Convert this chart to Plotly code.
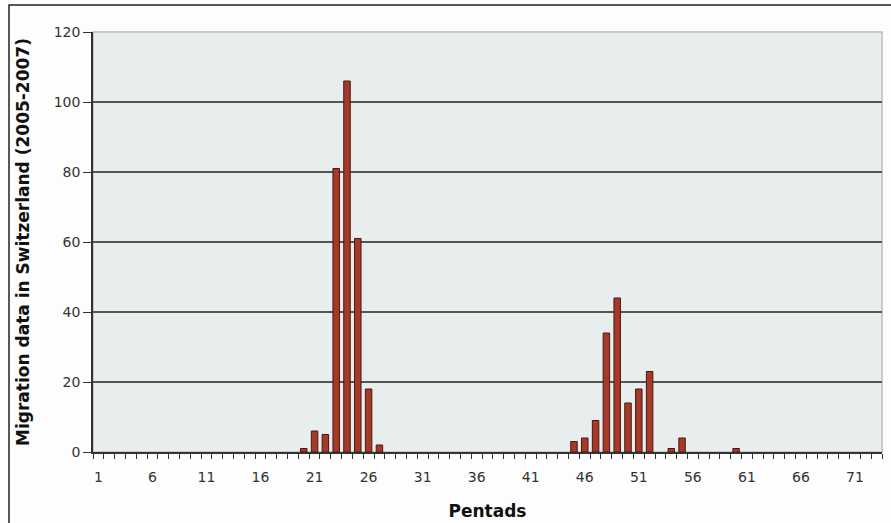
import plotly.graph_objects as go

pentads = list(range(1, 74))
counts_nonzero = {20: 1, 21: 6, 22: 5, 23: 81, 24: 106, 25: 61, 26: 18, 27: 2,
                  45: 3, 46: 4, 47: 9, 48: 34, 49: 44, 50: 14, 51: 18, 52: 23,
                  54: 1, 55: 4, 60: 1}
counts = [counts_nonzero.get(p, 0) for p in pentads]
x_labels = [str(p) for p in pentads]
tick_text = [str(p) if (p - 1) % 5 == 0 else "" for p in pentads]
y_ticks = [0, 20, 40, 60, 80, 100, 120]

W, H = 891, 523
L, R, T, B = 93, 9, 32, 71
pw, ph = W - L - R, H - T - B

def px2paper(x, y):
    return (x - L) / pw, (H - B - y) / ph

fig = go.Figure()
fig.add_trace(go.Bar(
    x=x_labels, y=counts,
    marker=dict(color="#a63a28",
                line=dict(color="#4a1610", width=[1 if v > 0 else 0 for v in counts])),
    width=0.6,
    hoverinfo="x+y",
))

x0, y0 = px2paper(9, 5)
x1, y1 = px2paper(897, 530)
fig.add_shape(type="rect", xref="paper", yref="paper", x0=x0, y0=y1, x1=x1, y1=y0,
              line=dict(color="#222", width=1.5), layer="above")
fig.add_shape(type="rect", xref="paper", yref="paper", x0=0, y0=0, x1=1, y1=1,
              line=dict(color="#b8bcbc", width=1.5), layer="below")

font_family = "DejaVu Sans, Verdana, sans-serif"
fig.update_layout(
    width=W, height=H,
    margin=dict(l=L, r=R, t=T, b=B, pad=0),
    paper_bgcolor="#fcfdfc",
    plot_bgcolor="#e8eeee",
    showlegend=False,
    font=dict(family=font_family, size=14, color="#333"),
    xaxis=dict(
        type="category",
        tickmode="array", tickvals=x_labels, ticktext=tick_text,
        tickson="boundaries", tickangle=0,
        ticks="outside", ticklen=5, tickwidth=1.2, tickcolor="#333",
        showline=True, linecolor="#333", linewidth=1.5,
        showgrid=False,
        ticklabelstandoff=11,
        tickfont=dict(size=14, color="#333"),
        title=dict(text="<b>Pentads</b>", font=dict(size=17, color="#111"), standoff=22),
        automargin=False,
        range=[-0.5, 72.5],
    ),
    yaxis=dict(
        range=[0, 120],
        tickvals=y_ticks,
        ticks="outside", ticklen=8, tickwidth=1.2, tickcolor="#333",
        showline=True, linecolor="#333", linewidth=1.5,
        showgrid=True, gridcolor="#555", gridwidth=1.5,
        zeroline=False,
        tickfont=dict(size=14, color="#333"),
        title=dict(text="<b>Migration data in Switzerland (2005-2007)</b>",
                   font=dict(size=17, color="#111"), standoff=20),
        automargin=False,
    ),
)

fig.write_html("out.html", config={"displayModeBar": False},
               post_script="document.body.style.margin='0';document.body.style.overflow='hidden';")
